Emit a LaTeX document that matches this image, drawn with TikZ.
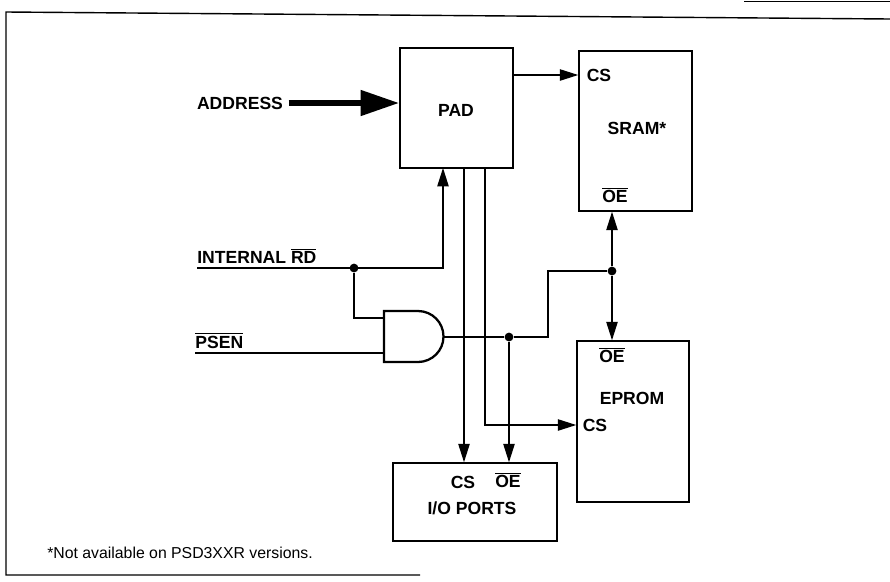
\documentclass[tikz,border=0pt]{standalone}
\usepackage{fontspec}
\setmainfont{Liberation Sans}
\usetikzlibrary{arrows.meta}
\newcommand{\nbar}[1]{$\overline{\mbox{#1}}$}
\tikzset{
  box/.style={draw, line width=0.9pt, inner sep=0pt},
  lbl/.style={inner sep=0pt, font=\bfseries\fontsize{10}{12}\selectfont},
  wire/.style={line width=0.7pt},
  jdot/.style={circle, fill, inner sep=0pt, minimum size=5pt},
}
\begin{document}
\begin{tikzpicture}[x=0.02cm, y=-0.02cm, >={Triangle[length=10.5pt,width=6.5pt]}]
  \useasboundingbox (0,0) rectangle (890,582);
  % frame
  \draw[line width=0.8pt] (890,19) -- (6,12) -- (6,575) -- (420,575);
  \draw[line width=0.6pt] (744,1.5) -- (890,1.5);

  % blocks
  \node[box, minimum width=2.26cm, minimum height=2.4cm] (pad) at (456.5,108) {};
  \node[lbl] at (456,110) {PAD};
  \node[box, minimum width=2.26cm, minimum height=3.2cm] (sram) at (635.5,131) {};
  \node[lbl] (sramcs) at (599,75) {CS};
  \node[lbl] at (637,128) {SRAM*};
  \node[lbl] at (615,195) {\nbar{OE}};
  \node[box, minimum width=2.24cm, minimum height=3.22cm] (eprom) at (633,421.5) {};
  \node[lbl] at (612,355) {\nbar{OE}};
  \node[lbl] at (632,398) {EPROM};
  \node[lbl] (epromcs) at (595,425) {CS};
  \node[box, minimum width=3.28cm, minimum height=1.56cm] (io) at (475,502) {};
  \node[lbl] at (463,482) {CS};
  \node[lbl] at (508,480) {\nbar{OE}};
  \node[lbl] at (472,508) {I/O PORTS};

  % and gate
  \draw[line width=1.3pt] (384,311) -- (418,311) arc(-90:90:25.5) -- (384,362) -- cycle;
  \coordinate (gin1) at (384,318);
  \coordinate (gin2) at (384,353);
  \coordinate (gout) at (443.5,337);

  % inputs
  \node[lbl] (addr) at (240,103) {ADDRESS};
  \coordinate (rdin) at (197,268);
  \coordinate (psenin) at (195,353);
  \node[lbl, anchor=south west] at (197,264) {INTERNAL \nbar{RD}};
  \node[lbl, anchor=south west] at (195,349) {\nbar{PSEN}};

  \coordinate (padrd) at (443,168);
  \coordinate (padcs1) at (464,168);
  \coordinate (padcs2) at (485,168);
  \coordinate (oebend) at (548,337);
  \node[jdot] (rddot) at (354,268) {};
  \node[jdot] (oedot) at (509,337) {};
  \node[jdot] (memdot) at (612,271) {};

  % connections
  \draw[line width=3.4pt, -{Triangle[length=22pt,width=14pt]}] ([xshift=3pt]addr.east) -- (addr.east -| pad.west);
  \draw[wire,->] (pad.east |- sramcs) -- (sram.west |- sramcs);
  \draw[wire,->] (rdin) -| (padrd);
  \draw[wire] (rddot) |- (gin1);
  \draw[wire] (psenin) -- (gin2);
  \draw[wire] (gout) -- (oedot) -- (oebend) |- (memdot);
  \draw[wire,->] (memdot) -- (memdot |- sram.south);
  \draw[wire,->] (memdot) -- (memdot |- eprom.north);
  \draw[wire,->] (oedot) -- (oedot |- io.north);
  \draw[wire,->] (padcs1) -- (padcs1 |- io.north);
  \draw[wire,->] (padcs2) |- (eprom.west |- epromcs);

  \node[inner sep=0pt, font=\fontsize{9}{11}\selectfont] at (180,553) {*Not available on PSD3XXR versions.};
\end{tikzpicture}
\end{document}
